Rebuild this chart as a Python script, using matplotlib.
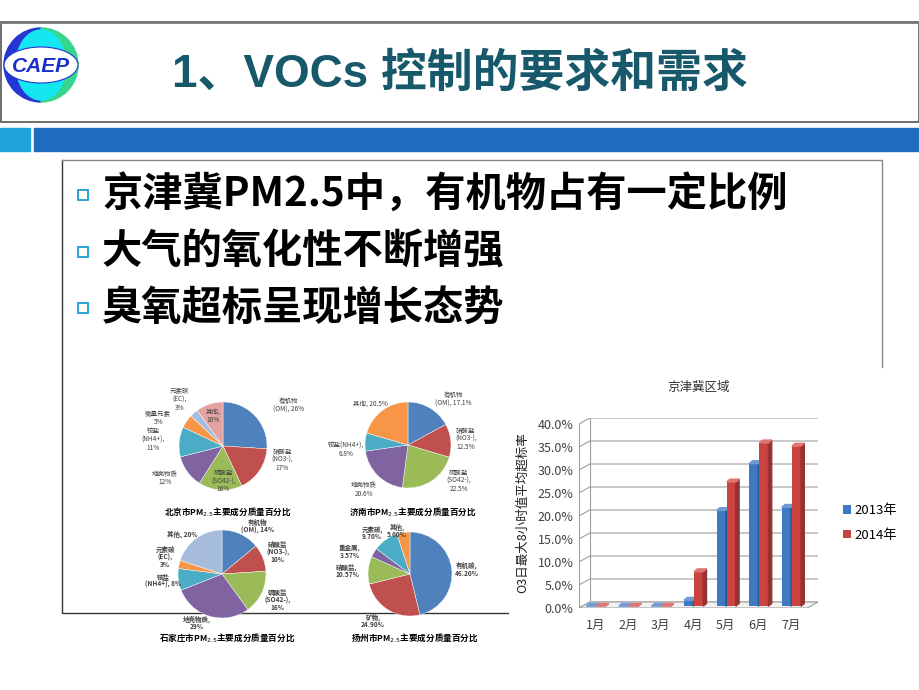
import matplotlib
matplotlib.use("Agg")
import matplotlib.pyplot as plt
from matplotlib.patches import Rectangle, Ellipse, Wedge, Polygon
import numpy as np

plt.rcParams['font.family'] = ['Noto Sans CJK SC', 'DejaVu Sans']

W, H = 920, 690

# 幻灯片文字
slide_title = "1、VOCs 控制的要求和需求"
bullets = ["京津冀PM2.5中，有机物占有一定比例", "大气的氧化性不断增强", "臭氧超标呈现增长态势"]

# 北京
bj_labels = ["有机物\n(OM), 26%", "硝酸盐\n(NO3-),\n17%", "硫酸盐\n(SO42-),\n16%", "地壳物质\n12%",
             "铵盐\n(NH4+),\n11%", "微量元素\n5%", "元素碳\n(EC),\n3%", "其他,\n10%"]
bj_values = [26, 17, 16, 12, 11, 5, 3, 10]

# 济南
jn_labels = ["有机物\n(OM), 17.1%", "硝酸盐\n(NO3-),\n12.5%", "硫酸盐\n(SO42-),\n22.5%", "地壳物质\n20.6%",
             "铵盐(NH4+),\n6.8%", "其他, 20.5%"]
jn_values = [17.1, 12.5, 22.5, 20.6, 6.8, 20.5]

# 石家庄
sjz_labels = ["有机物\n(OM), 14%", "硝酸盐\n(NO3-),\n10%", "硫酸盐\n(SO42-),\n16%", "地壳物质,\n29%",
              "铵盐\n(NH4+), 8%", "元素碳\n(EC),\n3%", "其他, 20%"]
sjz_values = [14, 10, 16, 29, 8, 3, 20]

# 扬州
yz_labels = ["有机碳,\n46.20%", "矿物,\n24.90%", "硝酸盐,\n10.57%", "重金属,\n3.57%", "元素碳,\n9.70%", "其他,\n5.00%"]
yz_values = [46.20, 24.90, 10.57, 3.57, 9.70, 5.00]

# 京津冀区域 O3 超标率 (%)
months = ["1月", "2月", "3月", "4月", "5月", "6月", "7月"]
rate_2013 = [0, 0, 0, 1.3, 20.8, 31.0, 21.5]
rate_2014 = [0, 0, 0, 7.5, 27.0, 35.5, 34.8]

C_BLUE, C_RED, C_GREEN, C_PURPLE = '#4F81BD', '#C0504D', '#9BBB59', '#8064A2'
C_CYAN, C_ORANGE, C_LBLUE, C_PINK = '#4BACC6', '#F79646', '#A7BCDD', '#E4A3A3'

fig = plt.figure(figsize=(9.2, 6.9), dpi=100)
fig.patch.set_facecolor('white')

bg = fig.add_axes([0, 0, 1, 1])
bg.set_xlim(0, W)
bg.set_ylim(H, 0)
bg.axis('off')

# 标题框
bg.add_patch(Rectangle((1, 22), W - 2, 100, fill=False, edgecolor='#555555', lw=1.2))
bg.plot([0, W], [22, 22], color='#777777', lw=2)
# 标志
bg.add_patch(Wedge((41, 65), 37, 90, 270, color='#2436d4'))
bg.add_patch(Wedge((41, 65), 37, -90, 90, color='#36d68c'))
bg.add_patch(Ellipse((41, 65), 50, 70, color='#14e6f2'))
bg.add_patch(Ellipse((41, 65), 74, 36, facecolor='white', edgecolor='#2436d4', lw=0.8))
bg.text(41, 66, "CAEP", ha='center', va='center', fontsize=15, fontweight='bold',
        style='italic', color='#1a2fc8', family=['Liberation Sans', 'DejaVu Sans'])
bg.text(172, 75, slide_title, ha='left', va='center', fontsize=33, fontweight='bold',
        color='#17596b', family=['Liberation Sans', 'Noto Sans CJK SC'])

# 蓝色横条
bg.add_patch(Rectangle((0, 128), 30, 23, color='#1ea3dc'))
bg.add_patch(Rectangle((34, 128), W - 34, 23, color='#1f6cbf'))

# 内容框
bg.plot([62, 62, 508], [160, 613, 613], color='#333333', lw=1)
bg.plot([62, 882, 882], [160, 160, 367], color='#888888', lw=1)

for i, line in enumerate(bullets):
    y = 195 + i * 56.5
    bg.add_patch(Rectangle((78, y - 5), 10, 10, fill=False, edgecolor='#1e9bd7', lw=1.3))
    bg.text(102, y, line, ha='left', va='center', fontsize=29, fontweight='bold', color='black')


def draw_pie(cx, cy, r, values, labels, colors, dists, offs, title, ty, bold=False):
    ax = fig.add_axes([(cx - r) / W, 1 - (cy + r) / H, 2 * r / W, 2 * r / H])
    wedges, texts = ax.pie(values, labels=labels, colors=colors, startangle=90, counterclock=False,
                           wedgeprops=dict(edgecolor='white', linewidth=0.3),
                           textprops=dict(fontsize=4.7, color='#404040',
                                          fontweight='bold' if bold else 'normal',
                                          linespacing=1.05))
    ax.set_xlim(-1, 1)
    ax.set_ylim(-1, 1)
    # 标签位置：沿扇区中线向外，再按参考图微调角度
    for t, w, d, o in zip(texts, wedges, dists, offs):
        ang = np.deg2rad((w.theta1 + w.theta2) / 2 + o)
        t.set_position((d * np.cos(ang), d * np.sin(ang)))
        t.set_ha('center')
        t.set_va('center')
    bg.text(cx + 5, ty, title, ha='center', va='center', fontsize=6.2, fontweight='bold', color='black')


draw_pie(223, 446, 44, bj_values, bj_labels,
         [C_BLUE, C_RED, C_GREEN, C_PURPLE, C_CYAN, C_ORANGE, C_LBLUE, C_PINK],
         [1.75, 1.38, 0.8, 1.5, 1.6, 1.6, 1.45, 0.72],
         [-11, 21, 4, -7, 0, 11, 2, 0],
         "北京市PM$_{2.5}$主要成分质量百分比", 512)
draw_pie(408, 445, 43, jn_values, jn_labels,
         [C_BLUE, C_RED, C_GREEN, C_PURPLE, C_CYAN, C_ORANGE],
         [1.5, 1.35, 1.45, 1.45, 1.45, 1.3],
         [-14, 0, 22, 0, 8, 6],
         "济南市PM$_{2.5}$主要成分质量百分比", 511)
draw_pie(222, 574, 44, sjz_values, sjz_labels,
         [C_BLUE, C_RED, C_GREEN, C_PURPLE, C_CYAN, C_ORANGE, C_LBLUE],
         [1.35, 1.36, 1.39, 1.25, 1.35, 1.35, 1.29],
         [-12, 0, 0, -11, -1, -4, 9],
         "石家庄市PM$_{2.5}$主要成分质量百分比", 638, bold=True)
draw_pie(410, 574, 42, yz_values, yz_labels,
         [C_BLUE, C_RED, C_GREEN, C_PURPLE, C_CYAN, C_ORANGE],
         [1.36, 1.42, 1.5, 1.53, 1.33, 1.07],
         [-2, -7, 2, 10, 7, 8],
         "扬州市PM$_{2.5}$主要成分质量百分比", 638, bold=True)

# 柱状图 (仿三维)
wdx, wdy = 0.33, 1.3
bdx, bdy = 0.1, 0.6
ax = fig.add_axes([579 / W, 1 - 608 / H, (818 - 579) / W, (608 - 418) / H])
ax.set_xlim(-0.5, 6.5 + wdx)
ax.set_ylim(0, 40 + wdy)
for s in ax.spines.values():
    s.set_visible(False)
yt = np.arange(0, 41, 5)
for v in yt:
    ax.plot([-0.5, -0.5 + wdx, 6.5 + wdx], [v, v + wdy, v + wdy], color='#a0a0a0', lw=0.8, zorder=1)
ax.plot([-0.5 + wdx, -0.5 + wdx], [wdy, 40 + wdy], color='#a0a0a0', lw=0.8, zorder=1)
ax.add_patch(Polygon([(-0.5, 0), (6.5, 0), (6.5 + wdx, wdy), (-0.5 + wdx, wdy)],
                     facecolor='#f2f2f2', edgecolor='#a0a0a0', lw=0.8, zorder=1))
ax.plot([-0.5, -0.5], [0, 40], color='#a0a0a0', lw=0.8, zorder=1)

x = np.arange(len(months))


def bar3d(xs, vals, color, side, top, label):
    bars = ax.bar(xs, vals, 0.28, bottom=0.4, color=color, zorder=3, label=label)
    for b in bars:
        x0, h = b.get_x(), b.get_height() + 0.4
        x1 = x0 + b.get_width()
        ax.add_patch(Polygon([(x1, 0.4), (x1 + bdx, 0.4 + bdy), (x1 + bdx, h + bdy), (x1, h)],
                             color=side, zorder=3))
        ax.add_patch(Polygon([(x0, h), (x0 + bdx, h + bdy), (x1 + bdx, h + bdy), (x1, h)],
                             color=top, zorder=3))
    return bars


b13 = bar3d(x - 0.14, rate_2013, '#3f78c3', '#2d5a96', '#6f9ad6', '2013年')
b14 = bar3d(x + 0.17, rate_2014, '#c9443f', '#963230', '#df7672', '2014年')

ax.set_yticks(yt)
ax.set_yticklabels([f"{v:.1f}%" for v in yt], fontsize=9, color='#404040')
ax.set_xticks(x)
ax.set_xticklabels(months, fontsize=9, color='#404040')
ax.tick_params(length=0, pad=4)
ax.tick_params(axis='x', pad=8)
ax.set_ylabel("O3日最大8小时值平均超标率", fontsize=9, color='#202020', labelpad=6)

bg.text(699, 387, "京津冀区域", ha='center', va='center', fontsize=9, color='#303030')
fig.legend(handles=[b13, b14], labels=['2013年', '2014年'], loc='center left',
           bbox_to_anchor=(831 / W, 1 - 523 / H), frameon=False, fontsize=9.5,
           handlelength=0.6, handleheight=0.6, handletextpad=0.3, labelspacing=0.9)

fig.savefig("out.png", dpi=100)
